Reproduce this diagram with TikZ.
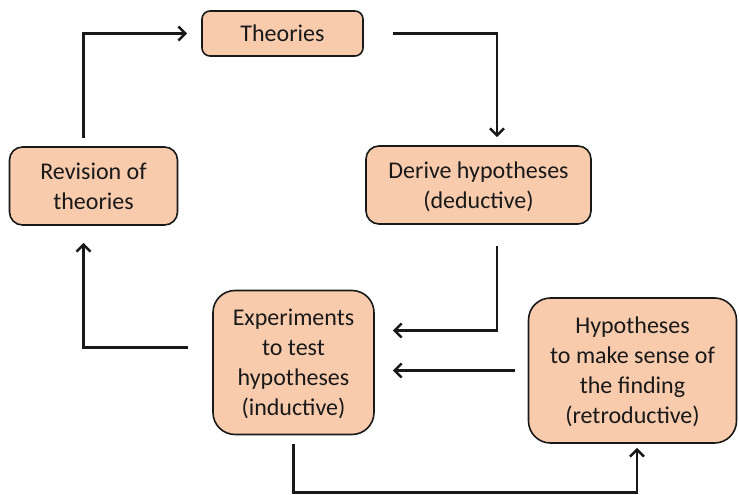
\documentclass[tikz,border=0pt]{standalone}
\usepackage{fontspec}
\setmainfont{Carlito}
\usetikzlibrary{arrows.meta}
\definecolor{peach}{HTML}{F8CBAD}

\begin{document}
\begin{tikzpicture}[x=1pt, y=-1pt,
  box/.style={draw=black!90, line width=1.6pt, fill=peach, align=center, inner sep=0pt,
    font=\fontsize{24}{30}\selectfont, text=black!90, text depth=0pt},
  flow/.style={line width=2.6pt, black!90, -{Straight Barb[length=7pt,width=14pt,line width=2.6pt]}}]
\useasboundingbox (0,0) rectangle (739,495);
\node[box, rounded corners=8pt, minimum width=161pt, minimum height=45pt] (theories) at (282.5,33.5) {Theories};
\node[box, rounded corners=13pt, minimum width=168pt, minimum height=78pt] (revision) at (93.5,186) {Revision of\\theories};
\node[box, rounded corners=13pt, minimum width=225pt, minimum height=78pt] (derive) at (478.5,185) {Derive hypotheses\\(deductive)};
\node[box, rounded corners=22pt, minimum width=161pt, minimum height=144pt] (experiments) at (293.5,362.5) {Experiments\\to test\\hypotheses\\(inductive)};
\node[box, rounded corners=22pt, minimum width=208pt, minimum height=145pt] (hypotheses) at (632.5,370.5) {Hypotheses\\to make sense of\\the finding\\(retroductive)};
\draw[flow] ([xshift=-10pt,yshift=8pt]revision.north) |- ([xshift=-14pt]theories.west);
\draw[flow] ([xshift=29pt]theories.east) -| ([xshift=18.5pt,yshift=8pt]derive.north);
\draw[flow] ([xshift=18.5pt,yshift=-21pt]derive.south) |- ([xshift=18pt,yshift=32pt]experiments.east);
\draw[flow] ([xshift=-13pt]hypotheses.west) -- ([xshift=18pt]hypotheses.west -| experiments.east);
\draw[flow] ([yshift=-9pt]experiments.south) -- ++(0pt,-48pt) -| ([xshift=4.5pt,yshift=-4pt]hypotheses.south);
\draw[flow] ([xshift=-24pt,yshift=15pt]experiments.west) -| ([xshift=-10pt,yshift=-17pt]revision.south);
\end{tikzpicture}
\end{document}
